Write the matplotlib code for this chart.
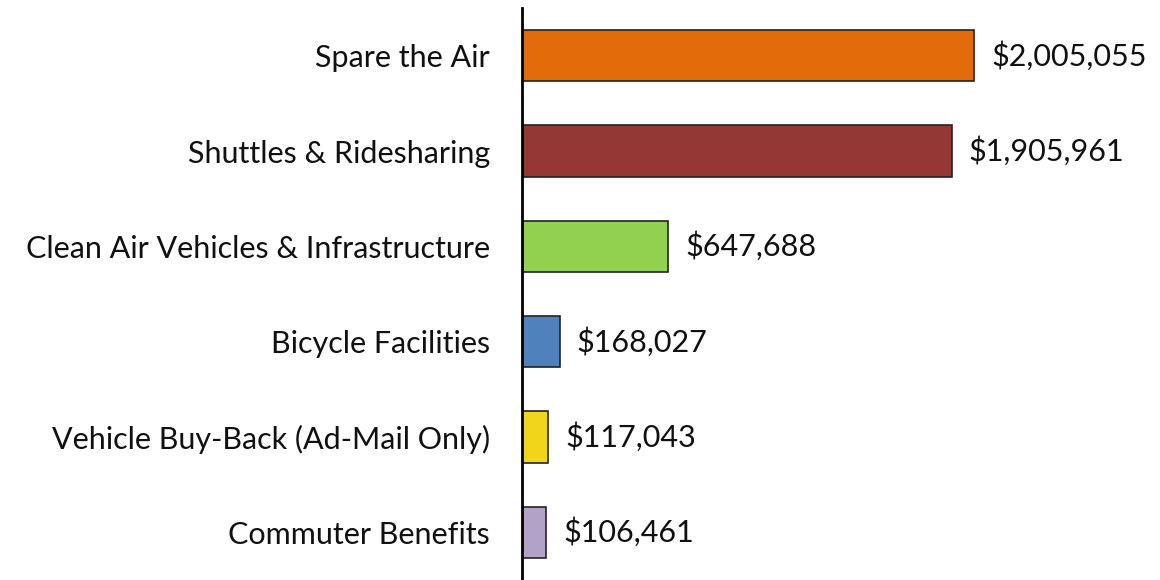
"""
Horizontal bar chart of program funding
"""
import numpy as np
import matplotlib.pyplot as plt

# data
categories = ['Spare the Air', 'Shuttles & Ridesharing', 'Clean Air Vehicles & Infrastructure',
              'Bicycle Facilities', 'Vehicle Buy-Back (Ad-Mail Only)', 'Commuter Benefits']
amounts = [2005055, 1905961, 647688, 168027, 117043, 106461]
colors = ['#E36C0A', '#953735', '#92D050', '#4F81BD', '#F0D51A', '#B3A2C7']

plt.rcParams['font.family'] = ['Lato', 'DejaVu Sans']

fig = plt.figure(figsize=(11.6, 5.8), dpi=100)
ax = fig.add_axes([0.45, 0.0, 0.55, 572 / 580])

pos = np.arange(len(categories))
bars = ax.barh(pos, amounts, height=0.535, color=colors, edgecolor='#222222', linewidth=1.2)
ax.set_ylim(len(categories) - 0.5, -0.5)
ax.set_xlim(0, 2830000)

# value labels
for b, v in zip(bars, amounts):
    ax.annotate('${:,}'.format(v), (b.get_width(), b.get_y() + b.get_height() / 2),
                xytext=(17, 0), textcoords='offset pixels',
                va='center', ha='left', fontsize=22, color='#111111')

ax.set_yticks(pos)
ax.set_yticklabels(categories, fontsize=22, color='#111111')
ax.tick_params(axis='y', length=0, pad=32 * 72 / 100)
ax.set_xticks([])
for s in ['top', 'right', 'bottom']:
    ax.spines[s].set_visible(False)
ax.spines['left'].set_linewidth(2)
ax.spines['left'].set_color('black')

fig.savefig('out.png', dpi=100)
